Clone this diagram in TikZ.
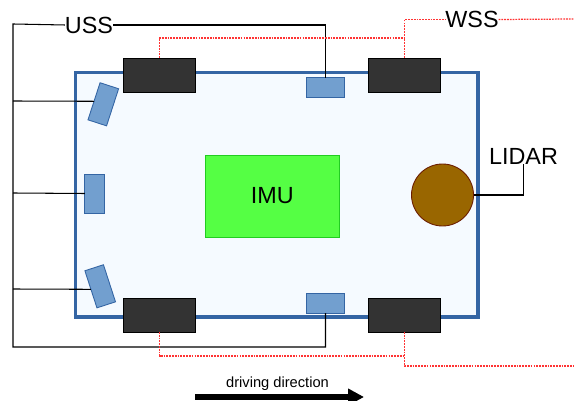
\documentclass[tikz,border=0pt]{standalone}
\usepackage{fontspec}
\setmainfont{Liberation Sans}
\usetikzlibrary{arrows.meta}
\definecolor{bodyblue}{HTML}{3465A4}
\definecolor{bodyfill}{HTML}{F5FAFF}
\definecolor{sensorblue}{HTML}{729FCF}
\definecolor{wheelgray}{HTML}{333333}
\definecolor{imugreen}{HTML}{55FF44}
\definecolor{imuline}{HTML}{22CC22}
\definecolor{lidarfill}{HTML}{996600}
\definecolor{lidarline}{HTML}{6B1C00}
\definecolor{wssred}{HTML}{FF3333}

\begin{document}
\begin{tikzpicture}[
    x=0.02cm, y=-0.02cm,
    box/.style={draw, inner sep=0pt, outer sep=0pt},
    body/.style={box, draw=bodyblue, fill=bodyfill, line width=0.07cm,
                 minimum width=8.05cm, minimum height=4.89cm},
    wheel/.style={box, fill=wheelgray, line width=0.4pt,
                  minimum width=1.45cm, minimum height=0.68cm},
    sensorh/.style={box, draw=bodyblue, fill=sensorblue, line width=0.5pt,
                    minimum width=0.77cm, minimum height=0.39cm},
    sensorv/.style={box, draw=bodyblue, fill=sensorblue, line width=0.5pt,
                    minimum width=0.39cm, minimum height=0.78cm},
    label/.style={inner sep=0pt, outer sep=0pt, font=\fontsize{13.3}{15}\selectfont},
    usswire/.style={draw=black, line width=0.6pt},
    wsswire/.style={draw=wssred, line width=0.7pt, dash pattern=on 1pt off 0.6pt},
  ]
  \useasboundingbox (0,0) rectangle (574,401);

  % Vehicle body
  \node[body] (veh) at (276.75,194.75) {};

  % Inner units
  \node[box, draw=imuline, fill=imugreen, line width=0.5pt, minimum width=2.68cm,
        minimum height=1.64cm, font=\fontsize{13.3}{15}\selectfont] (imu) at (272.3,196) {IMU};
  \node[box, circle, draw=lidarline, fill=lidarfill, line width=0.5pt,
        minimum size=1.24cm] (lidar) at (442.5,195) {};

  % Labels
  \node[label] (uss) at (89,25) {USS};
  \node[label] (wss) at (472,19.5) {WSS};
  \node[label] (lidartext) at (523.5,156) {LIDAR};
  \node[inner sep=0pt, font=\fontsize{8.35}{10}\selectfont] (dirtext) at (277.5,384) {driving direction};

  % Sensors
  \node[sensorh] (usstop) at (325.5,87.5) {};
  \node[sensorh] (ussbot) at (325.5,303.5) {};
  \node[sensorv] (ussmid) at (94.5,193.5) {};
  \node[sensorv, rotate=-18] (ussfl) at (103.3,104.3) {};
  \node[sensorv, rotate=18] (ussrl) at (100.2,286.3) {};

  % Free ends of the wiring
  \coordinate (ussleft) at (13,24);
  \coordinate (ussdown) at (13,347);
  \coordinate (jfl) at (13,101);
  \coordinate (jmid) at (13,193);
  \coordinate (jrl) at (13,289);
  \coordinate (wssright) at (574,19);
  \coordinate (wssbot) at (574,366);
  \coordinate (wtop) at (404.5,38);
  \coordinate (wlow) at (404.5,356);

  % USS wiring
  \draw[usswire] (uss.west) -- (ussleft) -- (ussdown) -| (ussbot.south);
  \draw[usswire] (uss.east) -| (usstop.north);
  \draw[usswire] (jfl) -- (ussfl.west);
  \draw[usswire] (jmid) -- (ussmid.west);
  \draw[usswire] (jrl) -- (ussrl.west);

  % LIDAR wiring
  \draw[usswire] (lidar.east) -| (lidartext.south);

  % Wheels
  \node[wheel] (wheelfl) at (159.5,75) {};
  \node[wheel] (wheelfr) at (404.5,75) {};
  \node[wheel] (wheelrl) at (159.5,315) {};
  \node[wheel] (wheelrr) at (404.5,315) {};

  % WSS wiring
  \draw[wsswire] (wheelfl.north) |- (wtop);
  \draw[wsswire] (wheelfr.north) |- (wss.west);
  \draw[wsswire] (wss.east) -- (wssright);
  \draw[wsswire] (wheelrl.south) |- (wlow);
  \draw[wsswire] (wheelrr.south) |- (wssbot);

  % Driving direction
  \coordinate (dirstart) at (195,397);
  \coordinate (dirend) at (364,397);
  \draw[line width=0.12cm, -{Triangle[length=0.32cm, width=0.32cm]}] (dirstart) -- (dirend);
\end{tikzpicture}
\end{document}
